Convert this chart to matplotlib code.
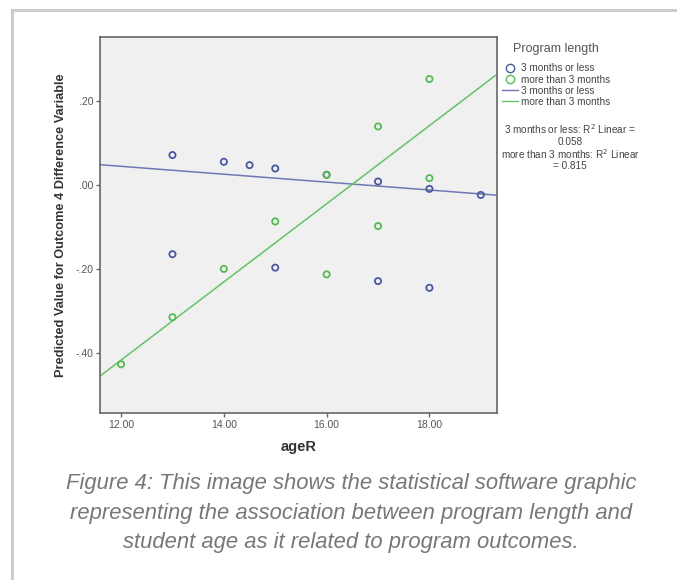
import matplotlib
matplotlib.use("Agg")
import matplotlib.pyplot as plt
from matplotlib.lines import Line2D

# ---- data ----
blue_age = [13, 14, 14.5, 15, 16, 17, 18, 19, 13, 15, 17, 18]
blue_val = [0.071, 0.055, 0.047, 0.039, 0.024, 0.008, -0.0095, -0.024,
            -0.165, -0.197, -0.229, -0.245]
green_age = [12, 13, 14, 15, 16, 16, 17, 17, 18, 18]
green_val = [-0.427, -0.315, -0.200, -0.087, -0.213, 0.024, -0.098, 0.139,
             0.016, 0.252]

# linear fit lines (intercept, slope)
blue_fit = (0.157, -0.0094)
green_fit = (-1.533, 0.093)

x_ticks = [12, 14, 16, 18]
x_ticklabels = ["12.00", "14.00", "16.00", "18.00"]
y_ticks = [0.20, 0.00, -0.20, -0.40]
y_ticklabels = [".20", ".00", "-.20", "-.40"]

series_labels = ["3 months or less", "more than 3 months"]
r2_text = ("3 months or less: R$^2$ Linear =\n0.058\n"
           "more than 3 months: R$^2$ Linear\n= 0.815")
caption = ("Figure 4: This image shows the statistical software graphic\n"
           "representing the association between program length and\n"
           "student age as it related to program outcomes.")

# ---- styling ----
BLUE = "#4b589f"
GREEN = "#55bb55"
BLUE_LINE = "#6f78b4"
GREEN_LINE = "#66c266"

plt.rcParams["font.family"] = ["Liberation Sans", "DejaVu Sans"]

fig = plt.figure(figsize=(6.77, 5.80), dpi=100)
fig.patch.set_facecolor("white")

ax = fig.add_axes([100 / 677, 1 - 413 / 580, 397 / 677, 376 / 580])
ax.set_facecolor("#f0f0f0")
for s in ax.spines.values():
    s.set_color("#666666")
    s.set_linewidth(1.2)

ax.set_xlim(11.59, 19.315)
ax.set_ylim(-0.543, 0.352)

ax.axline((0, blue_fit[0]), slope=blue_fit[1], color=BLUE_LINE, lw=1.1, zorder=2)
ax.axline((0, green_fit[0]), slope=green_fit[1], color=GREEN_LINE, lw=1.1, zorder=2)

ax.scatter(blue_age, blue_val, s=20, facecolors="none", edgecolors=BLUE,
           linewidths=1.3, zorder=3)
ax.scatter(green_age, green_val, s=20, facecolors="none", edgecolors=GREEN,
           linewidths=1.3, zorder=3)

ax.set_xticks(x_ticks)
ax.set_xticklabels(x_ticklabels)
ax.set_yticks(y_ticks)
ax.set_yticklabels(y_ticklabels)
ax.tick_params(axis="both", direction="out", length=3, width=1, color="#666666",
               labelsize=7.5, labelcolor="#555555", pad=2)

ax.set_xlabel("ageR", fontsize=10.5, fontweight="bold", color="#333333",
              labelpad=7)
ax.set_ylabel("Predicted Value for Outcome 4 Difference Variable", fontsize=9.2,
              fontweight="bold", color="#333333", labelpad=6)

# legend
handles = [
    Line2D([], [], ls="none", marker="o", mfc="none", mec=BLUE, ms=6, mew=1),
    Line2D([], [], ls="none", marker="o", mfc="none", mec=GREEN, ms=6, mew=1),
    Line2D([], [], color=BLUE_LINE, lw=1),
    Line2D([], [], color=GREEN_LINE, lw=1),
]
labels = series_labels + series_labels
leg = fig.legend(handles, labels, loc="upper left",
                 bbox_to_anchor=(499 / 677, 1 - 40 / 580),
                 bbox_transform=fig.transFigure, frameon=False,
                 fontsize=7.2, title="Program length", title_fontsize=9,
                 handlelength=1.6, handletextpad=0.3, labelspacing=0.12,
                 borderpad=0.3, borderaxespad=0)
leg._legend_box.sep = 6
leg.get_title().set_color("#555555")
for t in leg.get_texts():
    t.set_color("#444444")

# R^2 annotation (partly hidden behind the plot area, as in the reference)
fig.text(570 / 677, 1 - 147 / 580, r2_text, ha="center", va="center",
         fontsize=7.2, color="#444444", linespacing=1.05, zorder=-1)

# caption
fig.text(351 / 677, 1 - 513 / 580, caption, ha="center", va="center",
         fontsize=15.8, style="italic", color="#777777", linespacing=1.52)

# page border lines
fig.add_artist(Line2D([12 / 677, 1], [1 - 10 / 580, 1 - 10 / 580],
                      transform=fig.transFigure, color="#cccccc", lw=2.2))
fig.add_artist(Line2D([12 / 677, 12 / 677], [0, 1 - 10 / 580],
                      transform=fig.transFigure, color="#cccccc", lw=2.2))

fig.savefig("out.png", dpi=100, facecolor="white")
